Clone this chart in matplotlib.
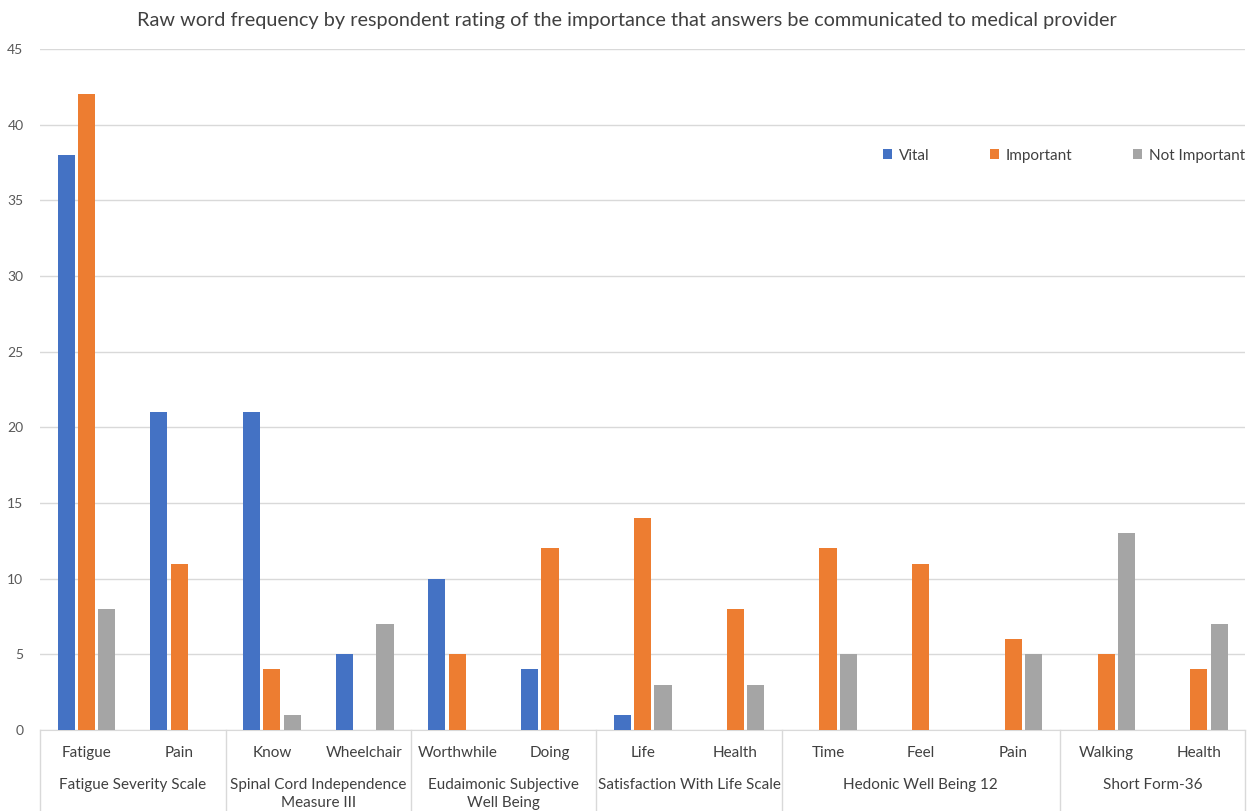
import matplotlib.pyplot as plt
import matplotlib.transforms as mtransforms
import numpy as np

plt.rcParams['font.family'] = ['Lato', 'DejaVu Sans']

groups = ['Fatigue Severity Scale', 'Spinal Cord Independence\nMeasure III',
          'Eudaimonic Subjective\nWell Being', 'Satisfaction With Life Scale',
          'Hedonic Well Being 12', 'Short Form-36']
group_sizes = [2, 2, 2, 2, 3, 2]
words = ['Fatigue', 'Pain', 'Know', 'Wheelchair', 'Worthwhile', 'Doing',
         'Life', 'Health', 'Time', 'Feel', 'Pain', 'Walking', 'Health']
vital = [38, 21, 21, 5, 10, 4, 1, 0, 0, 0, 0, 0, 0]
important = [42, 11, 4, 0, 5, 12, 14, 8, 12, 11, 6, 5, 4]
not_important = [8, 0, 1, 7, 0, 0, 3, 3, 5, 0, 5, 13, 7]

series = [('Vital', vital, '#4472C4'),
          ('Important', important, '#ED7D31'),
          ('Not Important', not_important, '#A5A5A5')]

fig = plt.figure(figsize=(12.54, 8.11), dpi=100)
ax = fig.add_axes([0.032, 0.0999, 0.961, 0.8397])

x = np.arange(len(words))
w = 0.185
offs = [-0.22, 0.0, 0.22]
for (name, vals, col), o in zip(series, offs):
    vals = np.array(vals, dtype=float)
    ax.bar(x + o, np.where(vals > 0, vals, np.nan), w, color=col, label=name, zorder=3)

ax.set_xlim(-0.5, len(words) - 0.5)
ax.set_ylim(0, 45)
ax.set_yticks(range(0, 46, 5))
ax.yaxis.grid(True, color='#D9D9D9', lw=1, zorder=0)
ax.tick_params(axis='y', length=0, pad=12, labelsize=10, labelcolor='#595959')
ax.set_xticks([])
for s in ['top', 'right', 'left']:
    ax.spines[s].set_visible(False)
ax.spines['bottom'].set_color('#D9D9D9')

trans = mtransforms.blended_transform_factory(ax.transData, ax.transAxes)
for i, wd in enumerate(words):
    ax.text(i, -0.034, wd, transform=trans, ha='center', va='center',
            fontsize=11, color='#404040')

edges = np.concatenate([[0], np.cumsum(group_sizes)]) - 0.5
for k, g in enumerate(groups):
    c = (edges[k] + edges[k + 1]) / 2
    ax.text(c, -0.071, g, transform=trans, ha='center', va='top',
            fontsize=11, color='#404040', linespacing=1.3)
for e in edges:
    ax.plot([e, e], [0, -0.125], transform=trans, color='#D9D9D9', lw=1,
            clip_on=False)

ax.legend(loc='upper right', bbox_to_anchor=(1.011, 0.874), ncol=3, frameon=False,
          fontsize=11, handlelength=0.6, handleheight=0.6, handletextpad=0.4,
          columnspacing=4.0, labelcolor='#404040')

fig.text(0.5, 0.975, 'Raw word frequency by respondent rating of the importance '
         'that answers be communicated to medical provider',
         ha='center', va='center', fontsize=14.3, color='#404040')

fig.savefig('out.png', dpi=100)
